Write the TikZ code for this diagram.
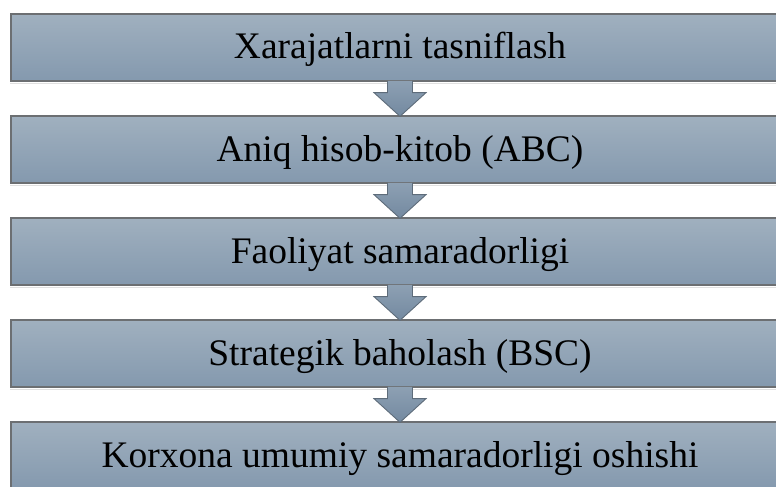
\documentclass[tikz,border=0pt]{standalone}
\usepackage{fontspec}
\setmainfont{Liberation Serif}
\usetikzlibrary{calc}
\definecolor{boxtop}{HTML}{A0B0BF}
\definecolor{boxbot}{HTML}{8499AE}
\definecolor{boxedge}{HTML}{6C6F72}
\definecolor{arrtop}{HTML}{8DA0B3}
\definecolor{arrbot}{HTML}{7389A0}
\definecolor{arredge}{HTML}{5E6C7A}
\begin{document}
\begin{tikzpicture}[x=1pt,y=-1pt,
  stagebox/.style={rectangle, minimum width=778pt, minimum height=67pt, inner sep=0pt,
    top color=boxtop, bottom color=boxbot, draw=boxedge, line width=1.3pt,
    font=\fontsize{37.5}{40}\selectfont, text height=30pt, text depth=7pt},
  flowarrow/.style={top color=arrtop, bottom color=arrbot, draw=arredge, line width=0.9pt, line join=miter},
  shadowline/.style={draw=black!12, line width=1.5pt}]
\useasboundingbox (0,0) rectangle (776,487);
\clip (0,0) rectangle (776,487);
\node[stagebox] (b1) at (400,47.5) {Xarajatlarni tasniflash};
\node[stagebox] (b2) at (400,149.5) {Aniq hisob-kitob (ABC)};
\node[stagebox] (b3) at (400,251.5) {Faoliyat samaradorligi};
\node[stagebox] (b4) at (400,353.5) {Strategik baholash (BSC)};
\node[stagebox] (b5) at (400,455.5) {Korxona umumiy samaradorligi oshishi};
\foreach \b in {b1,b2,b3,b4}{
  \draw[shadowline] ($(\b.south west)+(0,1.6)$) -- ($(\b.south east)+(0,1.6)$);
}
\foreach \a/\b in {b1/b2,b2/b3,b3/b4,b4/b5}{
  \draw[flowarrow] ($(\a.south)+(-12.5,-0.7)$) -- ($(\a.south)+(-12.5,11)$) -- ($(\a.south)+(-26,11)$)
     -- ($(\b.north)+(0,1)$) -- ($(\a.south)+(26,11)$) -- ($(\a.south)+(12.5,11)$) -- ($(\a.south)+(12.5,-0.7)$);
}
\end{tikzpicture}
\end{document}
